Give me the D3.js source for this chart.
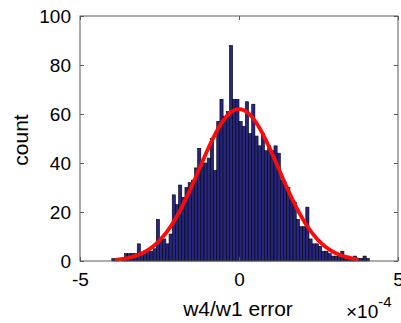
<!DOCTYPE html>
<html><head><meta charset="utf-8">
<script src="https://cdn.jsdelivr.net/npm/d3@7"></script>
<style>body{margin:0;background:#fff}svg{display:block}text{font-family:"Liberation Sans",Arial,Helvetica,sans-serif;fill:#000}</style>
</head><body>
<svg id="c" width="401" height="323"></svg>
<script>
// histogram bins (units of 1e-4), bin width 0.1e-4 starting at -4.0e-4
const binStart = -4.0;
const binWidth = 0.1;
const counts = [1,0,0,1,3,3,3,3,7,3,3,4,4,5,17,9,9,7,11,27,23,31,26,30,32,33,38,
  46,40,40,42,50,37,57,66,59,61,88,66,66,
  57,55,65,52,64,51,47,52,45,47,45,47,44,
  33,32,30,25,24,17,14,14,22,9,7,7,6,4,4,3,2,2,2,4,2,2,1,2,1,1,2,1];
// normal fit overlay parameters
const fitMean = 0.0, fitSigma = 1.25, fitPeak = 62;
const fitRange = [-3.85, 3.72];
const xTicks = [-5, 0, 5];
const yTicks = [0, 20, 40, 60, 80, 100];

const svg = d3.select("#c");
const L = 80, R = 398, T = 16, B = 261;
const x = d3.scaleLinear().domain([-5, 5]).range([L, R]);
const y = d3.scaleLinear().domain([0, 100]).range([B, T]);

const bins = counts.map((c, i) => ({x0: binStart + i * binWidth, x1: binStart + (i + 1) * binWidth, c}));
svg.append("g").selectAll("rect").data(bins).join("rect")
  .attr("x", d => x(d.x0)).attr("width", d => x(d.x1) - x(d.x0))
  .attr("y", d => y(d.c)).attr("height", d => y(0) - y(d.c))
  .attr("fill", "#262680").attr("stroke", "#000").attr("stroke-width", 0.6);

const fitPts = d3.range(fitRange[0], fitRange[1] + 1e-9, 0.02).map(v => [v, fitPeak * Math.exp(-((v - fitMean) ** 2) / (2 * fitSigma * fitSigma))]);
svg.append("path").datum(fitPts)
  .attr("d", d3.line().x(d => x(d[0])).y(d => y(d[1])))
  .attr("fill", "none").attr("stroke", "#ff0a0a").attr("stroke-width", 3.8).attr("stroke-linecap", "round");

// box
const ac = "#5a5a5a";
svg.append("rect").attr("x", L).attr("y", T).attr("width", R - L).attr("height", B - T)
  .attr("fill", "none").attr("stroke", ac).attr("stroke-width", 1);

const gb = svg.append("g").attr("transform", `translate(0,${B})`)
  .call(d3.axisBottom(x).tickValues(xTicks).tickSize(-4).tickPadding(12).tickFormat(d3.format("d")));
const gt = svg.append("g").attr("transform", `translate(0,${T})`)
  .call(d3.axisTop(x).tickValues(xTicks).tickSize(-4).tickFormat(""));
const gl = svg.append("g").attr("transform", `translate(${L},0)`)
  .call(d3.axisLeft(y).tickValues(yTicks).tickSize(-4).tickPadding(9));
const gr = svg.append("g").attr("transform", `translate(${R},0)`)
  .call(d3.axisRight(y).tickValues(yTicks).tickSize(-4).tickFormat(""));
[gb, gt, gl, gr].forEach(g => {
  g.select(".domain").remove();
  g.selectAll("line").attr("stroke", ac);
  g.selectAll("text").style("font-size", "19px").attr("fill", "#000");
});
gb.selectAll("text").text(d => d < 0 ? "-" + Math.abs(d) : d);

svg.append("text").attr("x", 238).attr("y", 316).attr("text-anchor", "middle")
  .style("font-size", "21px").text("w4/w1 error");
svg.append("text").attr("transform", "translate(28,140) rotate(-90)").attr("text-anchor", "middle")
  .style("font-size", "21px").text("count");
const ex = svg.append("text").attr("x", 346).attr("y", 318).style("font-size", "19px");
ex.append("tspan").text("×10");
ex.append("tspan").attr("dy", -11).style("font-size", "15px").text("-4");
</script>
</body></html>
